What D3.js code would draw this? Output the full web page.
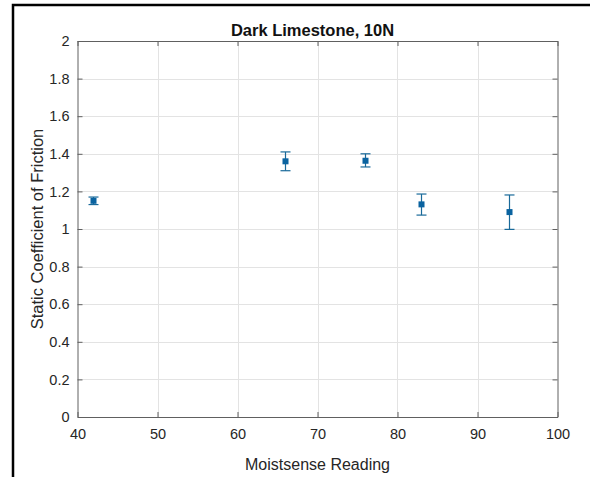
<!DOCTYPE html>
<html>
<head>
<meta charset="utf-8">
<script src="https://cdn.jsdelivr.net/npm/d3@7"></script>
<style>
  html, body { margin: 0; padding: 0; background: #fff; }
  svg { display: block; font-family: "Liberation Sans", Arial, sans-serif; }
</style>
</head>
<body>
<svg id="chart" width="590" height="477"></svg>
<script>
// Moisture reading vs. static friction, with spread of repeated trials
const readings = [42, 66, 76, 83, 94];
const meanFriction = [1.15, 1.36, 1.363, 1.131, 1.09];
const errLow = [1.13, 1.31, 1.33, 1.074, 0.998];
const errHigh = [1.17, 1.41, 1.40, 1.186, 1.181];

const xTicks = [40, 50, 60, 70, 80, 90, 100];
const yTicks = [0, 0.2, 0.4, 0.6, 0.8, 1, 1.2, 1.4, 1.6, 1.8, 2];

const titleText = "Dark Limestone, 10N";
const xLabel = "Moistsense Reading";
const yLabel = "Static Coefficient of Friction";

const W = 590, H = 477;
const m = { left: 77.5, right: 557.5, top: 41, bottom: 417 };
const svg = d3.select("#chart");

svg.append("rect").attr("width", W).attr("height", H).attr("fill", "#fff");

// Frame lines around the figure (top and left edges)
svg.append("path")
  .attr("d", `M13,${H} L13,5 L${W},5`)
  .attr("fill", "none").attr("stroke", "#000").attr("stroke-width", 2.5);

const x = d3.scaleLinear().domain([40, 100]).range([m.left, m.right]);
const y = d3.scaleLinear().domain([0, 2]).range([m.bottom, m.top]);

const gridColor = "#e3e3e3";
const axisColor = "#606060";
const textColor = "#262626";

// Grid
svg.append("g").selectAll("line").data(xTicks.slice(1, -1)).join("line")
  .attr("x1", d => Math.round(x(d)) + 0.5).attr("x2", d => Math.round(x(d)) + 0.5)
  .attr("y1", m.top).attr("y2", m.bottom)
  .attr("stroke", gridColor).attr("stroke-width", 1);
svg.append("g").selectAll("line").data(yTicks.slice(1, -1)).join("line")
  .attr("y1", d => Math.round(y(d)) + 0.5).attr("y2", d => Math.round(y(d)) + 0.5)
  .attr("x1", m.left).attr("x2", m.right)
  .attr("stroke", gridColor).attr("stroke-width", 1);

// Axes with inward ticks on all four sides
const tickLen = 5;
const bottomAxis = d3.axisBottom(x).tickValues(xTicks).tickSizeInner(-tickLen).tickSizeOuter(0)
  .tickPadding(12).tickFormat(d3.format("d"));
const topAxis = d3.axisTop(x).tickValues(xTicks).tickSizeInner(-tickLen).tickSizeOuter(0).tickFormat("");
const leftAxis = d3.axisLeft(y).tickValues(yTicks).tickSizeInner(-tickLen).tickSizeOuter(0)
  .tickPadding(8).tickFormat(d => d3.format("~g")(d));
const rightAxis = d3.axisRight(y).tickValues(yTicks).tickSizeInner(-tickLen).tickSizeOuter(0).tickFormat("");

function style(g) {
  g.select(".domain").attr("stroke", axisColor).attr("stroke-width", 1);
  g.selectAll(".tick line").attr("stroke", axisColor);
  g.selectAll(".tick text").attr("fill", textColor).attr("font-size", 14.5)
    .attr("font-family", "Liberation Sans, Arial, sans-serif");
}
svg.append("g").attr("transform", `translate(0,${m.bottom})`).call(bottomAxis).call(style);
svg.append("g").attr("transform", `translate(0,${m.top})`).call(topAxis).call(style);
svg.append("g").attr("transform", `translate(${m.left},0)`).call(leftAxis).call(style);
svg.append("g").attr("transform", `translate(${m.right},0)`).call(rightAxis).call(style);

// Error bars and markers
const data = readings.map((r, i) => ({ r, v: meanFriction[i], lo: errLow[i], hi: errHigh[i] }));
const barColor = "#1a6a9a";
const capHalf = 5;
const eb = svg.append("g").selectAll("g").data(data).join("g");
eb.append("line")
  .attr("x1", d => x(d.r)).attr("x2", d => x(d.r))
  .attr("y1", d => y(d.lo)).attr("y2", d => y(d.hi))
  .attr("stroke", barColor).attr("stroke-width", 1.2);
eb.append("line")
  .attr("x1", d => x(d.r) - capHalf).attr("x2", d => x(d.r) + capHalf)
  .attr("y1", d => y(d.lo)).attr("y2", d => y(d.lo))
  .attr("stroke", barColor).attr("stroke-width", 1.2);
eb.append("line")
  .attr("x1", d => x(d.r) - capHalf).attr("x2", d => x(d.r) + capHalf)
  .attr("y1", d => y(d.hi)).attr("y2", d => y(d.hi))
  .attr("stroke", barColor).attr("stroke-width", 1.2);
const ms = 6;
eb.append("rect")
  .attr("x", d => x(d.r) - ms / 2).attr("y", d => y(d.v) - ms / 2)
  .attr("width", ms).attr("height", ms)
  .attr("fill", "#0a63a0");

// Labels
svg.append("text").attr("x", (m.left + m.right) / 2 - 5).attr("y", 36)
  .attr("text-anchor", "middle").attr("font-weight", "bold").attr("font-size", 16.5)
  .attr("fill", "#111").text(titleText);
svg.append("text").attr("x", (m.left + m.right) / 2).attr("y", 470)
  .attr("text-anchor", "middle").attr("font-size", 16)
  .attr("fill", textColor).text(xLabel);
svg.append("text")
  .attr("transform", `translate(43,${(m.top + m.bottom) / 2}) rotate(-90)`)
  .attr("text-anchor", "middle").attr("font-size", 16.5)
  .attr("fill", textColor).text(yLabel);
</script>
</body>
</html>
